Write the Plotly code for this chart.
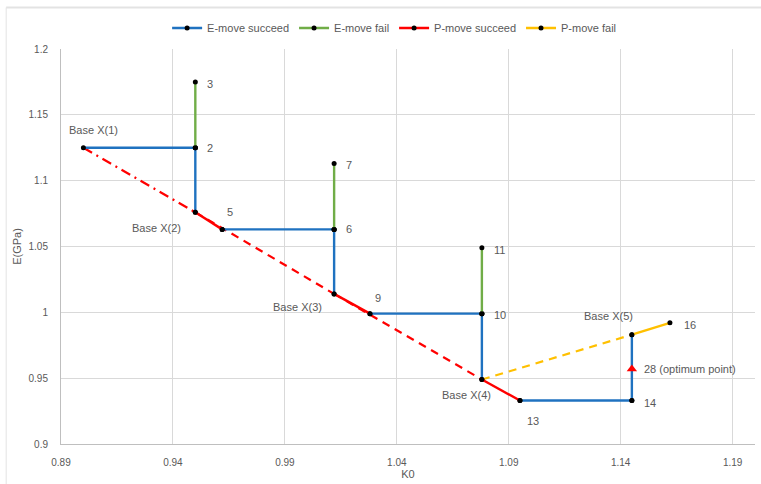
import plotly.graph_objects as go

# ---- data ----
point_names = ["Base X(1)", "2", "3", "Base X(2)", "5", "6", "7", "Base X(3)", "9",
               "10", "11", "Base X(4)", "13", "14", "Base X(5)", "16", "28 (optimum point)"]
k0 = [0.900, 0.950, 0.950, 0.950, 0.962, 1.012, 1.012, 1.012, 1.028,
      1.078, 1.078, 1.078, 1.095, 1.145, 1.145, 1.162, 1.145]
e_gpa = [1.125, 1.125, 1.175, 1.076, 1.063, 1.063, 1.113, 1.014, 0.999,
         0.999, 1.049, 0.949, 0.933, 0.933, 0.983, 0.992, 0.957]

# segments (pairs of point names) for each series
e_move_succeed = [("Base X(1)", "2"), ("2", "Base X(2)"), ("5", "6"), ("6", "Base X(3)"),
                  ("9", "10"), ("10", "Base X(4)"), ("13", "14"), ("14", "Base X(5)")]
e_move_fail = [("2", "3"), ("6", "7"), ("10", "11")]
p_move_succeed = [("Base X(2)", "5"), ("Base X(3)", "9"), ("Base X(4)", "13")]
p_move_fail = [("Base X(5)", "16")]
p_succeed_dashdot = [("Base X(1)", "Base X(2)")]
p_succeed_dashed = [("Base X(2)", "Base X(3)"), ("Base X(3)", "Base X(4)")]
p_fail_dashed = [("Base X(4)", "Base X(5)")]
optimum = "28 (optimum point)"

x_ticks = [0.89, 0.94, 0.99, 1.04, 1.09, 1.14, 1.19]
y_ticks = [0.9, 0.95, 1.0, 1.05, 1.1, 1.15, 1.2]

idx = {n: i for i, n in enumerate(point_names)}


def path(segs):
    xs, ys = [], []
    for a, b in segs:
        xs += [k0[idx[a]], k0[idx[b]], None]
        ys += [e_gpa[idx[a]], e_gpa[idx[b]], None]
    return xs, ys


BLUE = "#1F72C0"
GREEN = "#70AD47"
RED = "#FF0000"
YELLOW = "#FFC000"
FONT = "Liberation Sans Narrow, Arial Narrow, Liberation Sans, sans-serif"
GRAY = "#595959"

fig = go.Figure()

# dashed / dash-dot guide lines (no legend)
for segs, col, dash in [(p_succeed_dashdot, RED, "10px,5px,2px,5px"),
                        (p_succeed_dashed, RED, "8px,6px"),
                        (p_fail_dashed, YELLOW, "8px,6px")]:
    xs, ys = path(segs)
    fig.add_trace(go.Scatter(x=xs, y=ys, mode="lines", showlegend=False, hoverinfo="skip",
                             line=dict(color=col, width=2.2, dash=dash)))

for name, segs, col in [("E-move succeed", e_move_succeed, BLUE),
                        ("E-move fail", e_move_fail, GREEN),
                        ("P-move succeed", p_move_succeed, RED),
                        ("P-move fail", p_move_fail, YELLOW)]:
    xs, ys = path(segs)
    fig.add_trace(go.Scatter(x=xs, y=ys, mode="lines+markers", name=name,
                             line=dict(color=col, width=2.4),
                             marker=dict(color="black", size=5)))

# optimum point marker
fig.add_trace(go.Scatter(x=[k0[idx[optimum]]], y=[e_gpa[idx[optimum]]], mode="markers",
                         showlegend=False,
                         marker=dict(symbol="triangle-up", color=RED, size=9)))

# point labels: (name, xshift, yshift, anchor)
label_pos = {
    "Base X(1)": (10, 18, "center"),
    "2": (10, 0, "left"),
    "3": (10, -2, "left"),
    "Base X(2)": (-12, -16, "right"),
    "5": (3, 17, "left"),
    "6": (10, 0, "left"),
    "7": (10, -1, "left"),
    "Base X(3)": (-10, -13, "right"),
    "9": (3, 16, "left"),
    "10": (10, -1, "left"),
    "11": (10, -2, "left"),
    "Base X(4)": (-15, -16, "center"),
    "13": (5, -20, "left"),
    "14": (10, -2, "left"),
    "Base X(5)": (-23, 19, "center"),
    "16": (12, -2, "left"),
    "28 (optimum point)": (10, 0, "left"),
}
for n, (dx, dy, anc) in label_pos.items():
    fig.add_annotation(x=k0[idx[n]], y=e_gpa[idx[n]], text=n, showarrow=False,
                       xshift=dx, yshift=dy, xanchor=anc,
                       font=dict(family=FONT, size=11, color=GRAY))

# outer chart border (top and left edges visible in the reference)
fig.add_shape(type="line", xref="paper", yref="paper", x0=-0.079, x1=1.01, y0=1.105, y1=1.105,
              line=dict(color="#E3E3E3", width=2))
fig.add_shape(type="line", xref="paper", yref="paper", x0=-0.079, x1=-0.079, y0=1.105, y1=-0.11,
              line=dict(color="#E3E3E3", width=1))

fig.update_layout(
    width=761, height=484,
    margin=dict(l=61, r=6, t=49, b=40, autoexpand=False),
    paper_bgcolor="white", plot_bgcolor="white",
    font=dict(family=FONT, size=11, color=GRAY),
    legend=dict(orientation="h", x=0.48, xanchor="center", y=1.053, yanchor="middle",
                font=dict(family=FONT, size=11, color=GRAY), itemwidth=30,
                bgcolor="rgba(0,0,0,0)"),
    xaxis=dict(range=[0.89, 1.2], tickvals=x_ticks, ticktext=[f"{v:g}" for v in x_ticks],
               showgrid=True, gridcolor="#D9D9D9", gridwidth=1, zeroline=False,
               showline=True, linecolor="#BFBFBF", ticks="", ticklabelstandoff=9,
               title=dict(text="K0", font=dict(size=11, color=GRAY), standoff=2),
               tickfont=dict(size=10, color=GRAY)),
    yaxis=dict(range=[0.9, 1.2], tickvals=y_ticks, ticktext=[f"{v:g}" for v in y_ticks],
               showgrid=True, gridcolor="#D9D9D9", gridwidth=1, zeroline=False,
               showline=True, linecolor="#BFBFBF", ticks="", ticklabelstandoff=10,
               title=dict(text="E(GPa)", font=dict(size=11, color=GRAY), standoff=4),
               tickfont=dict(size=10, color=GRAY)),
)

fig.write_html("out.html", config={"displayModeBar": False},
               post_script="document.body.style.margin='0px';")
